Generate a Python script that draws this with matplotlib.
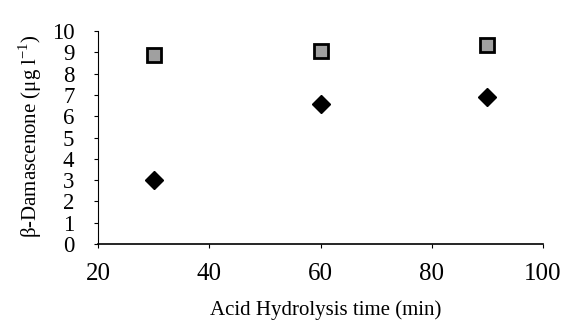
import matplotlib.pyplot as plt
import numpy as np

plt.rcParams["font.family"] = ["Liberation Serif", "DejaVu Serif"]
plt.rcParams["mathtext.fontset"] = "custom"
plt.rcParams["mathtext.rm"] = "Liberation Serif"

# data
time_min = [30, 60, 90]
squares = [8.87, 9.07, 9.34]
diamonds = [3.0, 6.55, 6.9]

fig = plt.figure(figsize=(5.66, 3.22), dpi=100)
ax = fig.add_axes([98 / 566, 1 - 244 / 322, 445 / 566, 213 / 322])

ax.plot(time_min, squares, linestyle="none", marker="s", markersize=9.5,
        markerfacecolor="#a0a0a0", markeredgecolor="black", markeredgewidth=2)
ax.plot(time_min, diamonds, linestyle="none", marker="D", markersize=9,
        color="black")

ax.set_xlim(20, 100)
ax.set_ylim(0, 10)
ax.set_xticks(np.arange(20, 101, 20))
ax.set_yticks(np.arange(0, 11, 1))

for spine in ["top", "right"]:
    ax.spines[spine].set_visible(False)
ax.spines["left"].set_linewidth(0.8)
ax.spines["bottom"].set_linewidth(1.2)

ax.tick_params(axis="y", direction="out", length=3, width=0.8, labelsize=16.5, pad=14)
ax.tick_params(axis="x", direction="out", length=3, width=0.8, labelsize=18, pad=11)

fig.text(326 / 566, 1 - 315 / 322, "Acid Hydrolysis time (min)", fontsize=15,
         ha="center", va="baseline")
fig.text(30 / 566, 1 - 136 / 322, r"β-Damascenone (μg l$^{\mathregular{-1}}$)",
         fontsize=15, rotation=90, ha="center", va="center")

fig.savefig("out.png", dpi=100)
